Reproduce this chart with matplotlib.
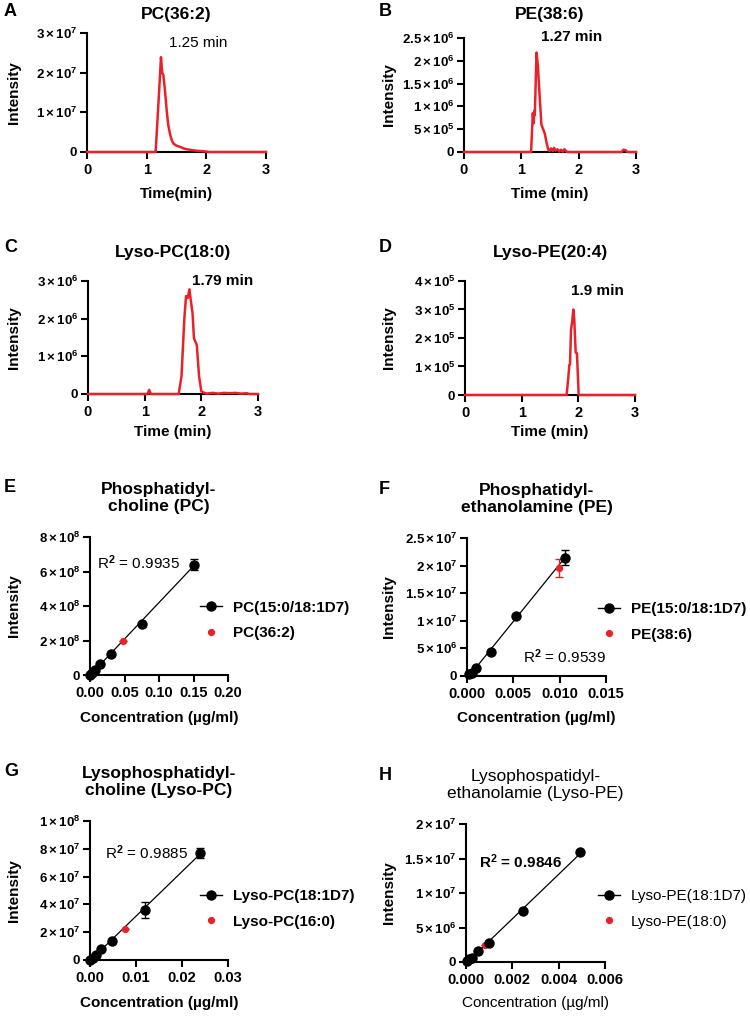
import numpy as np
import matplotlib
matplotlib.use("Agg")
import matplotlib.pyplot as plt
from matplotlib.lines import Line2D
from matplotlib.ticker import FuncFormatter, FormatStrFormatter

plt.rcParams["font.family"] = "Liberation Sans"
plt.rcParams["font.weight"] = "bold"
plt.rcParams["mathtext.fontset"] = "custom"
plt.rcParams["mathtext.rm"] = "Liberation Sans"
plt.rcParams["mathtext.bf"] = "Liberation Sans:bold"
plt.rcParams["mathtext.it"] = "Liberation Sans:italic"

RED = "#E8222B"

# ---- chromatograms (time in min, intensity) ----
A_time = [0, 1.15, 1.2, 1.24, 1.26, 1.28, 1.31, 1.335, 1.36, 1.39, 1.42, 1.45,
          1.5, 1.56, 1.62, 1.67, 1.75, 1.85, 1.95, 2.05, 3.0]
A_int = [0, 0, 1.3e7, 2.39e7, 2.0e7, 1.94e7, 1.5e7, 1.06e7, 0.7e7, 0.46e7, 0.3e7,
         0.21e7, 0.16e7, 0.13e7, 0.09e7, 0.07e7, 0.05e7, 0.03e7, 0.02e7, 0, 0]

B_time = [0, 1.17, 1.2, 1.215, 1.225, 1.235, 1.265, 1.29, 1.32, 1.35, 1.38, 1.41,
          1.44, 1.47, 1.49, 1.52, 1.55, 1.57, 1.6, 1.63, 1.66, 1.69, 1.72, 1.75,
          1.78, 1.8, 2.75, 2.78, 2.82, 2.85, 3.0]
B_int = [0, 0, 0.85e6, 0.63e6, 0.9e6, 0.81e6, 2.18e6, 1.87e6, 1.21e6, 0.6e6, 0.5e6,
         0.4e6, 0.2e6, 0.05e6, 0.02e6, 0.08e6, 0.02e6, 0.09e6, 0.03e6, 0.06e6,
         0.01e6, 0.05e6, 0.01e6, 0.06e6, 0.02e6, 0, 0, 0.05e6, 0.04e6, 0, 0]

C_time = [0, 1.05, 1.08, 1.11, 1.6, 1.65, 1.7, 1.73, 1.76, 1.79, 1.81, 1.845,
          1.87, 1.92, 1.96, 2.0, 2.05, 2.1, 2.2, 2.3, 2.4, 2.5, 2.6, 2.7, 2.8,
          2.85, 3.0]
C_int = [0, 0, 0.11e6, 0, 0, 0.47e6, 2.0e6, 2.6e6, 2.55e6, 2.78e6, 2.53e6, 2.14e6,
         1.48e6, 1.30e6, 0.47e6, 0.07e6, 0.03e6, 0.01e6, 0.03e6, 0.01e6, 0.03e6,
         0.02e6, 0.03e6, 0.01e6, 0.02e6, 0, 0]

D_time = [0, 1.794, 1.824, 1.841, 1.853, 1.871, 1.894, 1.912, 1.929, 1.953,
          1.976, 2.006, 3.0]
D_int = [0, 0, 0.64e5, 1.05e5, 1.08e5, 2.28e5, 2.63e5, 3.0e5, 2.63e5, 1.49e5,
         1.46e5, 0, 0]

# ---- calibration curves (conc in ug/ml, intensity) ----
E_conc = [0.0, 0.0035, 0.0075, 0.015, 0.03, 0.075, 0.15]
E_int = [0.01e8, 0.13e8, 0.31e8, 0.66e8, 1.23e8, 2.96e8, 6.4e8]
E_err = [0, 0, 0, 0, 0, 0, 0.32e8]
E_red = ([0.048], [1.95e8], [0])

F_conc = [0.00025, 0.0005, 0.001, 0.0026, 0.0053, 0.0106]
F_int = [0.03e7, 0.06e7, 0.14e7, 0.44e7, 1.09e7, 2.145e7]
F_err = [0, 0, 0, 0, 0, 0.13e7]
F_red = ([0.0099], [1.96e7], [0.16e7])

G_conc = [0.0001, 0.0006, 0.0012, 0.0024, 0.0048, 0.0119, 0.0239]
G_int = [0.03e7, 0.17e7, 0.36e7, 0.77e7, 1.39e7, 3.59e7, 7.71e7]
G_err = [0, 0, 0, 0, 0, 0.57e7, 0.36e7]
G_red = ([0.0075], [2.25e7], [0])

H_conc = [0.00005, 0.00015, 0.00025, 0.0005, 0.001, 0.00247, 0.00494]
H_int = [0.01e7, 0.04e7, 0.063e7, 0.155e7, 0.277e7, 0.738e7, 1.597e7]
H_err = [0, 0, 0, 0, 0, 0, 0]
H_red = ([0.00083], [0.243e7], [0])

W, H = 750, 1017
fig = plt.figure(figsize=(7.5, 10.17), dpi=100)


def box(l, r, t, b):
    return fig.add_axes([l / W, 1 - b / H, (r - l) / W, (b - t) / H])


def fx(x):
    return x / W


def fy(y):
    return 1 - y / H


def sci_label(v, pos):
    if v == 0:
        return "0"
    e = int(np.floor(np.log10(v) + 1e-9))
    m = v / 10 ** e
    return r"$\mathbf{%s\times10^{%d}}$" % (f"{m:g}", e)


def style(ax):
    ax.spines["top"].set_visible(False)
    ax.spines["right"].set_visible(False)
    ax.spines["left"].set_linewidth(1.5)
    ax.spines["bottom"].set_linewidth(1.5)
    ax.tick_params(direction="out", length=5, width=1.5)
    ax.tick_params(axis="x", labelsize=10.5, pad=3)
    ax.tick_params(axis="y", labelsize=9.5, pad=2)
    ax.yaxis.set_major_formatter(FuncFormatter(sci_label))


# chromatogram panels: letter, axes box, data, y range, title, x label,
# peak note, note position, note weight, title y, letter y, x label y, letter x
chrom = [
    ("A", (87, 266, 33, 152), A_time, A_int, 3e7, 1e7, "PC(36:2)", "Time(min)",
     "1.25 min", (198, 43), "normal", 15, 12, 194, 4),
    ("B", (464, 636, 38, 152), B_time, B_int, 2.5e6, 5e5, "PE(38:6)", "Time (min)",
     "1.27 min", (572, 37), "bold", 15, 12, 194, 379),
    ("C", (88, 258, 281, 394), C_time, C_int, 3e6, 1e6, "Lyso-PC(18:0)", "Time (min)",
     "1.79 min", (223, 281), "bold", 253, 248, 432, 4),
    ("D", (465, 635, 281, 395), D_time, D_int, 4e5, 1e5, "Lyso-PE(20:4)", "Time (min)",
     "1.9 min", (597, 291), "bold", 253, 248, 432, 379),
]
for letter, rect, t, y, ymax, ystep, title, xl, note, npos, nw, ty, ly, xly, lx in chrom:
    ax = box(*rect)
    style(ax)
    ax.plot(t, y, color=RED, lw=1.8, zorder=3, clip_on=False)
    ax.set_xlim(0, 3)
    ax.set_ylim(0, ymax)
    ax.set_xticks([0, 1, 2, 3])
    ax.set_yticks(np.arange(0, ymax + ystep / 2, ystep))
    l, r, tp, b = rect
    fig.text(fx((l + r) / 2), fy(ty), title, ha="center", va="center",
             fontsize=12.5)
    fig.text(fx(lx), fy(ly), letter, ha="left", va="center", fontsize=13)
    fig.text(fx(npos[0]), fy(npos[1]), note, ha="center", va="center",
             fontsize=11, fontweight=nw)
    fig.text(fx((l + r) / 2), fy(xly), xl, ha="center", va="center", fontsize=11)
    fig.text(fx(lx + 10), fy((tp + b) / 2), "Intensity", ha="center", va="center",
             rotation=90, fontsize=11)

# calibration panels
calib = [
    ("E", (90, 228, 537, 675), E_conc, E_int, E_err, E_red, 0.2, 0.05, "%.2f",
     8e8, 2e8, "Phosphatidyl-\ncholine (PC)", "PC(15:0/18:1D7)", "PC(36:2)",
     r"R$^{2}$ = 0.9935", (97, 563), "normal", (200, 620.5), 718, 4, "bold"),
    ("F", (467, 606, 538, 676), F_conc, F_int, F_err, F_red, 0.015, 0.005, "%.3f",
     2.5e7, 5e6, "Phosphatidyl-\nethanolamine (PE)", "PE(15:0/18:1D7)", "PE(38:6)",
     r"R$^{2}$ = 0.9539", (523, 657), "normal", (598, 622), 718, 379, "bold"),
    ("G", (90, 228, 821, 960), G_conc, G_int, G_err, G_red, 0.03, 0.01, "%.2f",
     1e8, 2e7, "Lysophosphatidyl-\ncholine (Lyso-PC)", "Lyso-PC(18:1D7)", "Lyso-PC(16:0)",
     r"R$^{2}$ = 0.9885", (105, 853), "normal", (200, 909), 1003, 4, "bold"),
    ("H", (466, 605, 824, 962), H_conc, H_int, H_err, H_red, 0.006, 0.002, "%.3f",
     2e7, 5e6, "Lysophospatidyl-\nethanolamie (Lyso-PE)", "Lyso-PE(18:1D7)", "Lyso-PE(18:0)",
     r"R$^{\mathbf{2}}$ = 0.9846", (479, 862), "bold", (598, 909), 1003, 379, "normal"),
]
for (letter, rect, conc, inten, err, red, xmax, xstep, xfmt, ymax, ystep, title,
     lab_b, lab_r, r2, r2pos, r2w, legpos, xly, lx, tw) in calib:
    ax = box(*rect)
    style(ax)
    slope, icpt = np.polyfit(conc, inten, 1)
    xs = np.array([0, max(conc)])
    ax.plot(xs, slope * xs + icpt, color="black", lw=0.9, zorder=3)
    ax.errorbar(red[0], red[1], yerr=red[2], fmt="o", color=RED, ms=4.2,
                capsize=3, elinewidth=1, capthick=1, zorder=4, clip_on=False)
    ax.errorbar(conc, inten, yerr=err, fmt="o", color="black", ms=6.5,
                capsize=3, elinewidth=1, capthick=1, zorder=5, clip_on=False)
    ax.set_xlim(0, xmax)
    ax.set_ylim(0, ymax)
    ax.set_xticks(np.arange(0, xmax + xstep / 2, xstep))
    ax.set_yticks(np.arange(0, ymax + ystep / 2, ystep))
    ax.xaxis.set_major_formatter(FormatStrFormatter(xfmt))
    l, r, tp, b = rect
    fig.text(fx((l + r) / 2), fy(tp - 39), title, ha="center", va="center",
             fontsize=12.5, linespacing=1.15, fontweight=tw)
    fig.text(fx(lx), fy(tp - 49), letter, ha="left", va="center", fontsize=13)
    fig.text(fx(r2pos[0]), fy(r2pos[1]), r2, ha="left", va="center",
             fontsize=11, fontweight=r2w)
    fig.text(fx((l + r) / 2), fy(xly), "Concentration (µg/ml)", ha="center",
             va="center", fontsize=11, fontweight=tw)
    fig.text(fx(lx + 10), fy((tp + b) / 2), "Intensity", ha="center", va="center",
             rotation=90, fontsize=11)
    handles = [Line2D([0], [0], color="black", lw=1, marker="o", ms=6.5),
               Line2D([0], [0], color=RED, ls="none", marker="o", ms=4.2)]
    ax.legend(handles, [lab_b, lab_r], loc="center left",
              bbox_to_anchor=(fx(legpos[0]), fy(legpos[1])),
              bbox_transform=fig.transFigure, frameon=False, borderpad=0,
              borderaxespad=0, handlelength=1.45, handletextpad=0.7,
              labelspacing=0.75, prop={"size": 11, "weight": tw})

fig.savefig("out.png", dpi=100)
